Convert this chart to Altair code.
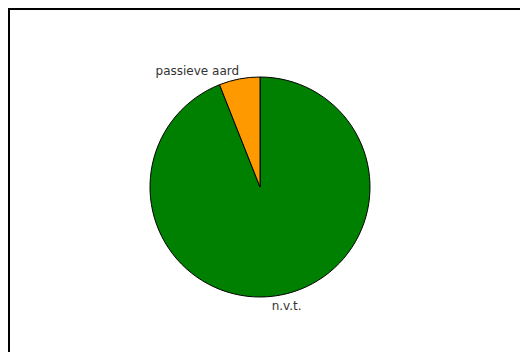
import altair as alt
import pandas as pd

labels = ["n.v.t.", "passieve aard"]
values = [94, 6]
order = [0, 1]
colors = ["#008000", "#FF9900"]

df = pd.DataFrame({"label": labels, "value": values, "order": order})

W, H = 512, 344
CX, CY, R = 252, 179, 110

base = alt.Chart(df)

pie = base.mark_arc(stroke="black", strokeWidth=1, outerRadius=R).encode(
    theta=alt.Theta("value:Q", stack=True),
    order=alt.Order("order:Q"),
    color=alt.Color("label:N", scale=alt.Scale(domain=labels, range=colors), legend=None),
    x=alt.value(CX),
    y=alt.value(CY),
)

lab = base.transform_joinaggregate(total="sum(value)").transform_window(
    cum="sum(value)", sort=[alt.SortField("order")]
).transform_calculate(
    mid="(datum.cum - datum.value/2) / datum.total * 2 * PI"
)

def label_layer(name, dx, dy):
    return lab.transform_filter(alt.datum.label == name).mark_text(
        font="DejaVu Sans", fontSize=12, color="#333333", dx=dx, dy=dy, radius=121
    ).encode(
        theta=alt.Theta("mid:Q", scale=None),
        text="label:N",
        x=alt.value(CX),
        y=alt.value(CY),
    )

t1 = label_layer("n.v.t.", 4, 0)
t2 = label_layer("passieve aard", -40, 3)

border_left = alt.Chart(df).mark_rule(color="black", strokeWidth=4).encode(
    x=alt.value(0), y=alt.value(0), y2=alt.value(H)
)
border_top = alt.Chart(df).mark_rule(color="black", strokeWidth=4).encode(
    y=alt.value(0), x=alt.value(0), x2=alt.value(W)
)

chart = alt.layer(pie, t1, t2, border_left, border_top).properties(
    width=W, height=H, padding=0, autosize=alt.AutoSizeParams(type="none")
).configure_view(stroke=None)

chart.save("out.html", embed_options={"renderer": "svg", "actions": False})
